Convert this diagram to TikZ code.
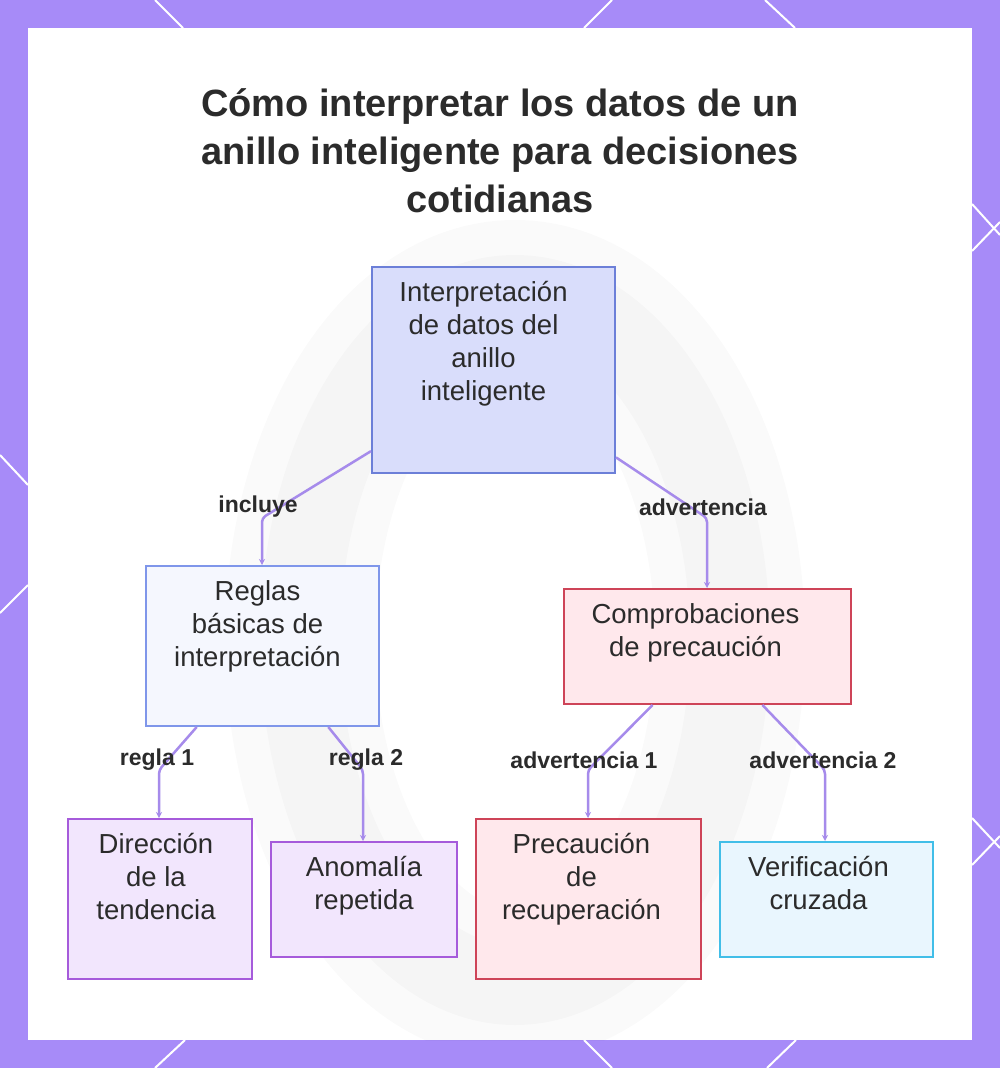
\documentclass[tikz,border=0pt]{standalone}
\usepackage{fontspec}
\setmainfont{Liberation Sans}
\usepackage{tikz}
\usetikzlibrary{
    calc,
    arrows.meta,
    positioning
}
\definecolor{framec}{HTML}{A78BF8}
\definecolor{ink}{HTML}{2B2B2B}
\definecolor{linkc}{HTML}{A68BEB}
\definecolor{rootfill}{HTML}{D9DDFB}
\definecolor{rootedge}{HTML}{6C7FD8}
\definecolor{rulefill}{HTML}{F5F7FE}
\definecolor{ruleedge}{HTML}{7F96EA}
\definecolor{warnfill}{HTML}{FFE8EC}
\definecolor{warnedge}{HTML}{CE4458}
\definecolor{leaffill}{HTML}{F2E6FD}
\definecolor{leafedge}{HTML}{A65BDB}
\definecolor{crossfill}{HTML}{E9F6FE}
\definecolor{crossedge}{HTML}{41BEE8}
\tikzset{
    box/.style={draw, line width=2pt, inner sep=0pt, anchor=north west},
    rootbox/.style={box, draw=rootedge, fill=rootfill},
    rulebox/.style={box, draw=ruleedge, fill=rulefill},
    warnbox/.style={box, draw=warnedge, fill=warnfill},
    leafbox/.style={box, draw=leafedge, fill=leaffill},
    crossbox/.style={box, draw=crossedge, fill=crossfill},
    boxtext/.style={anchor=north, align=center, inner sep=0pt, yshift=-15pt,
        text=ink, font=\fontsize{27.5}{33}\selectfont},
    linklabel/.style={text=ink, inner sep=1pt, font=\bfseries\fontsize{23}{26}\selectfont},
    conn/.style={draw=linkc, line width=2.5pt, rounded corners=4pt,
        -{Stealth[length=6pt,width=6pt]}},
    deco/.style={draw=white, line width=2pt},
    title/.style={align=center, text=ink, font=\bfseries\fontsize{38}{48}\selectfont}
}

\begin{document}
\begin{tikzpicture}[x=1pt,y=-1pt]
    \useasboundingbox (0,0) rectangle (1000,1068);
    % frame
    \fill[framec] (0,0) rectangle (1000,1068);
    \fill[white] (28,28) rectangle (972,1040);
    \foreach \xa/\ya/\xb/\yb in {155/0/183/28, 612/0/584/28, 765/0/795/28,
        185/1040/155/1068, 584/1040/612/1068, 796/1040/767/1068,
        0/455/28/485, 28/585/0/613,
        972/204/1000/235, 972/251/1000/222, 972/818/1000/848, 972/865/1000/836}
        \draw[deco] (\xa,\ya) -- (\xb,\yb);
    % faint ring in the background
    \begin{scope}
        \clip (28,28) rectangle (972,1040);
        \draw[black, opacity=0.02, line width=150pt] (515,640) ellipse [x radius=215pt, y radius=345pt];
        \draw[black, opacity=0.02, line width=80pt] (515,640) ellipse [x radius=215pt, y radius=345pt];
    \end{scope}

    \node[title] (title) at (500,151) {Cómo interpretar los datos de un\\anillo inteligente para decisiones\\cotidianas};

    \node[rootbox, minimum width=243pt, minimum height=206pt,
        label={[boxtext, xshift=-10pt]north:Interpretación\\de datos del\\anillo\\inteligente}] (root) at (371,266) {};
    \node[rulebox, minimum width=233pt, minimum height=160pt,
        label={[boxtext, xshift=-5pt]north:Reglas\\básicas de\\interpretación}] (rules) at (145,565) {};
    \node[warnbox, minimum width=287pt, minimum height=115pt,
        label={[boxtext, xshift=-12pt]north:Comprobaciones\\de precaución}] (checks) at (563,588) {};
    \node[leafbox, minimum width=184pt, minimum height=160pt,
        label={[boxtext, xshift=-4pt]north:Dirección\\de la\\tendencia}] (trend) at (67,818) {};
    \node[leafbox, minimum width=186pt, minimum height=115pt,
        label={[boxtext]north:Anomalía\\repetida}] (anomaly) at (270,841) {};
    \node[warnbox, minimum width=225pt, minimum height=160pt,
        label={[boxtext, xshift=-7pt]north:Precaución\\de\\recuperación}] (recovery) at (475,818) {};
    \node[crossbox, minimum width=213pt, minimum height=115pt,
        label={[boxtext, xshift=-8pt]north:Verificación\\cruzada}] (cross) at (719,841) {};

    % bends
    \coordinate (kInc) at (262,518);
    \coordinate (kAdv) at (707,518);
    \coordinate (kR1) at (159,770);
    \coordinate (kR2) at (363,770);
    \coordinate (kA1) at (588,770);
    \coordinate (kA2) at (825,770);

    \draw[conn] ($(root.south west)!0.11!(root.north west)$) -- (kInc) -- (kInc |- rules.north);
    \draw[conn] ($(root.south east)!0.08!(root.north east)$) -- (kAdv) -- (kAdv |- checks.north);
    \draw[conn] ($(rules.south west)!0.22!(rules.south east)$) -- (kR1) -- (kR1 |- trend.north);
    \draw[conn] ($(rules.south west)!0.78!(rules.south east)$) -- (kR2) -- (kR2 |- anomaly.north);
    \draw[conn] ($(checks.south west)!0.31!(checks.south east)$) -- (kA1) -- (kA1 |- recovery.north);
    \draw[conn] ($(checks.south west)!0.69!(checks.south east)$) -- (kA2) -- (kA2 |- cross.north);

    \node[linklabel] (lIncl) at (258,507) {incluye};
    \node[linklabel] (lAdv) at (703,507) {advertencia};
    \node[linklabel] (lR1) at (157,760) {regla 1};
    \node[linklabel] (lR2) at (366,760) {regla 2};
    \node[linklabel] (lA1) at (584,760) {advertencia 1};
    \node[linklabel] (lA2) at (823,760) {advertencia 2};
\end{tikzpicture}
\end{document}
